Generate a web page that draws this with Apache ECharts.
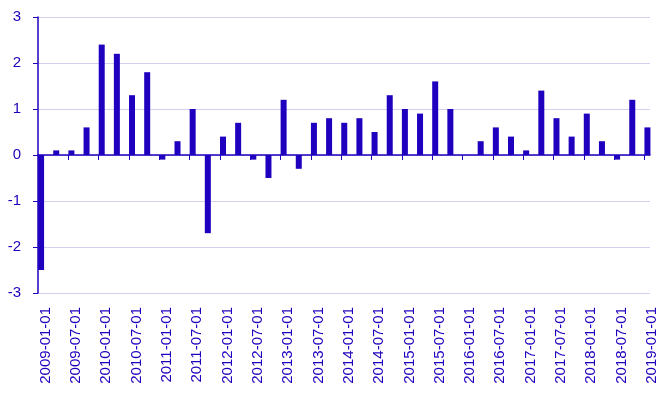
<!DOCTYPE html>
<html>
<head>
<meta charset="utf-8">
<script src="https://cdn.jsdelivr.net/npm/echarts@6/dist/echarts.min.js"></script>
<style>html,body{margin:0;padding:0;background:#fff}#c{width:664px;height:394px}</style>
</head>
<body>
<div id="c"></div>
<script>
var categories = ['2009-01-01','2009-04-01','2009-07-01','2009-10-01',
  '2010-01-01','2010-04-01','2010-07-01','2010-10-01',
  '2011-01-01','2011-04-01','2011-07-01','2011-10-01',
  '2012-01-01','2012-04-01','2012-07-01','2012-10-01',
  '2013-01-01','2013-04-01','2013-07-01','2013-10-01',
  '2014-01-01','2014-04-01','2014-07-01','2014-10-01',
  '2015-01-01','2015-04-01','2015-07-01','2015-10-01',
  '2016-01-01','2016-04-01','2016-07-01','2016-10-01',
  '2017-01-01','2017-04-01','2017-07-01','2017-10-01',
  '2018-01-01','2018-04-01','2018-07-01','2018-10-01',
  '2019-01-01'];
var values = [-2.5, 0.1, 0.1, 0.6,
  2.4, 2.2, 1.3, 1.8,
  -0.1, 0.3, 1.0, -1.7,
  0.4, 0.7, -0.1, -0.5,
  1.2, -0.3, 0.7, 0.8,
  0.7, 0.8, 0.5, 1.3,
  1.0, 0.9, 1.6, 1.0,
  0.0, 0.3, 0.6, 0.4,
  0.1, 1.4, 0.8, 0.4,
  0.9, 0.3, -0.1, 1.2,
  0.6];
var yMin = -3, yMax = 3, yStep = 1;

var BLUE = '#1E00BE';
var GRID = '#d3cff0';
var FONT = 'Liberation Sans';

var chart = echarts.init(document.getElementById('c'), null, {renderer: 'canvas'});
chart.setOption({
  animation: false,
  backgroundColor: '#ffffff',
  grid: [
    {left: 38, right: 4.5, top: 17, bottom: 101, containLabel: false},   // bars + labels
    {left: 38, right: 14, top: 17, bottom: 101, containLabel: false},    // y axis, gridlines, zero line
    {left: 38, right: 19.6, top: 17, bottom: 101, containLabel: false}   // ticks on zero line
  ],
  xAxis: [
    {
      type: 'category', gridIndex: 0, data: categories, boundaryGap: true,
      position: 'bottom',
      axisLine: {show: false, onZero: false},
      axisTick: {show: false},
      axisLabel: {
        interval: 1, rotate: 90, margin: 14,
        color: BLUE, fontFamily: FONT, fontSize: 15,
        padding: [0, 0, 9, 0]
      },
      splitLine: {show: false}
    },
    {
      type: 'value', gridIndex: 1, min: 0, max: 1,
      axisLine: {show: true, onZero: true, lineStyle: {color: BLUE, width: 1.5}},
      axisTick: {show: false},
      axisLabel: {show: false},
      splitLine: {show: false}
    },
    {
      type: 'category', gridIndex: 2, data: categories, boundaryGap: false,
      position: 'bottom',
      axisLine: {show: false, onZero: true},
      axisTick: {show: true, interval: 1, length: 5, lineStyle: {color: BLUE, width: 1}},
      axisLabel: {show: false},
      splitLine: {show: false}
    }
  ],
  yAxis: [
    {
      type: 'value', gridIndex: 0, min: yMin, max: yMax, interval: yStep,
      axisLine: {show: false}, axisTick: {show: false},
      axisLabel: {show: false}, splitLine: {show: false}
    },
    {
      type: 'value', gridIndex: 1, min: yMin, max: yMax, interval: yStep,
      axisLine: {show: true, lineStyle: {color: BLUE, width: 1.5}},
      axisTick: {show: true, length: 5, lineStyle: {color: BLUE, width: 1}},
      axisLabel: {color: BLUE, fontFamily: FONT, fontSize: 15, margin: 17},
      splitLine: {show: true, lineStyle: {color: GRID, width: 1}}
    },
    {
      type: 'value', gridIndex: 2, min: yMin, max: yMax, interval: yStep,
      axisLine: {show: false}, axisTick: {show: false},
      axisLabel: {show: false}, splitLine: {show: false}
    }
  ],
  series: [
    {
      type: 'bar', xAxisIndex: 0, yAxisIndex: 0, data: values,
      barWidth: 6, barGap: '0%',
      itemStyle: {color: BLUE}
    },
    {
      type: 'bar', xAxisIndex: 0, yAxisIndex: 0, data: [],
      barWidth: 9, barGap: '0%',
      itemStyle: {color: 'transparent'}
    }
  ]
});
</script>
</body>
</html>
